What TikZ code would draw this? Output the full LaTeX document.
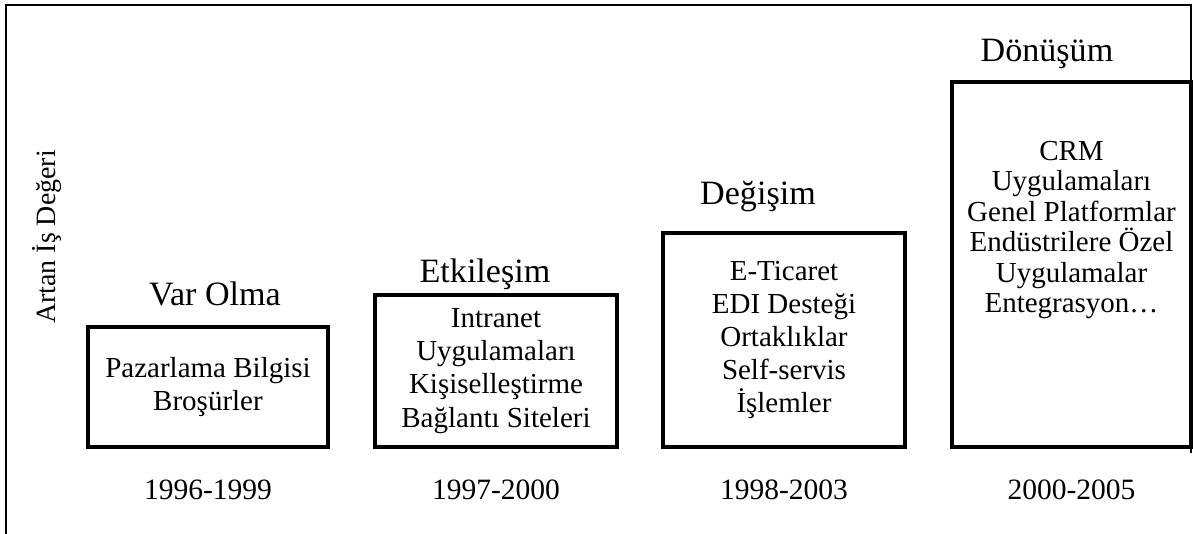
\documentclass[tikz,border=0pt]{standalone}
\usepackage{fontspec}
\setmainfont{Liberation Serif}
\usepackage{tikz}

\begin{document}
\begin{tikzpicture}[
  box/.style   = {draw, line width=2pt, minimum width=4.8cm, align=center,
                  inner sep=0pt, font=\fontsize{16.5}{18.9}\selectfont},
  title/.style = {anchor=base, font=\fontsize{19.4}{22}\selectfont},
  year/.style  = {anchor=base, font=\fontsize{16.8}{19}\selectfont},
  frame/.style = {line width=1.4pt}
]
  \useasboundingbox (0,0) rectangle (23.86,10.68);

  % Frame
  \draw[frame] (0.12,0) -- (0.12,10.58) -- (23.82,10.58) -- (23.82,1.62);

  % Axis label
  \node[rotate=90, font=\fontsize{15.9}{18}\selectfont] (axis) at (0.93,5.94)
    {Artan İş Değeri};

  % Stages
  \node[box, minimum height=2.4cm]  (varbox) at (4.16,2.94)
    {Pazarlama Bilgisi\\Broşürler};
  \node[box, minimum height=3.04cm, minimum width=4.84cm] (etkbox) at (9.92,3.26)
    {Intranet\\Uygulamaları\\Kişiselleştirme\\Bağlantı Siteleri};
  \node[box, minimum height=4.28cm, minimum width=4.84cm] (degbox) at (15.68,3.88)
    {E-Ticaret\\EDI Desteği\\Ortaklıklar\\Self-servis\\İşlemler};
  \node[box, minimum height=7.3cm, minimum width=4.78cm] (donbox) at (21.43,5.39) {};
  \node[align=center, inner sep=0pt, font=\fontsize{16.5}{17.4}\selectfont]
    (dontext) at (21.43,6.08)
    {CRM\\Uygulamaları\\Genel Platformlar\\Endüstrilere Özel\\Uygulamalar\\Entegrasyon…};

  % Stage titles
  \node[title] (vartitle) at (4.30,4.56)  {Var Olma};
  \node[title] (etktitle) at (9.70,5.02)  {Etkileşim};
  \node[title] (degtitle) at (15.16,6.58) {Değişim};
  \node[title] (dontitle) at (20.94,9.44) {Dönüşüm};

  % Years
  \node[year] (varyear) at ([yshift=-1.02cm]varbox.south) {1996-1999};
  \node[year] (etkyear) at ([yshift=-1.02cm]etkbox.south) {1997-2000};
  \node[year] (degyear) at ([yshift=-1.02cm]degbox.south) {1998-2003};
  \node[year] (donyear) at ([yshift=-1.02cm]donbox.south) {2000-2005};

\end{tikzpicture}
\end{document}
